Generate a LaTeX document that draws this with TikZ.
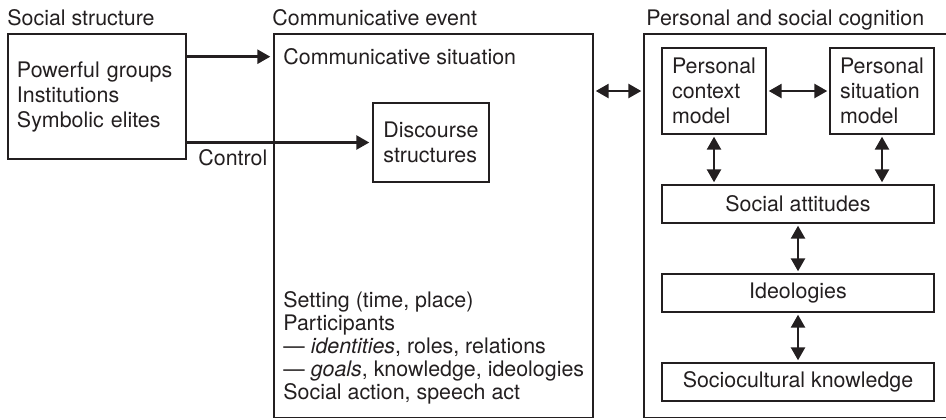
\documentclass[tikz,border=0pt]{standalone}
\usepackage{fontspec}
\setmainfont{TeX Gyre Heros}
\usetikzlibrary{arrows.meta}
\definecolor{ink}{RGB}{35,31,32}

\begin{document}
\begin{tikzpicture}[x=0.5pt, y=-0.5pt, color=ink,
		every node/.style={font=\fontsize{10.7}{12.5}\selectfont, inner sep=0pt},
		frame/.style={draw, line width=0.7pt},
		tag/.style={anchor=base west},
		link/.style={line width=1.3pt, shorten >=1.5pt, -{Triangle[length=6.5pt,width=7pt]}},
		twoway/.style={line width=1.3pt, shorten >=1pt, shorten <=1pt, {Triangle[length=6.5pt,width=7pt]}-{Triangle[length=6.5pt,width=7pt]}},
		model/.style={frame, align=left, minimum width=52pt, minimum height=43pt},
		layer/.style={frame, minimum width=136pt, minimum height=19pt}]

		\useasboundingbox (0,0) rectangle (946,419);

		\node[tag] (structtitle) at (7,25.5) {Social structure};
		\node[tag] (eventtitle) at (272,25.5) {Communicative event};
		\node[tag] (cogtitle) at (646,25.5) {Personal and social cognition};

		\node[frame, align=left, text width=80pt, inner xsep=4.5pt, minimum height=62.5pt] (socstruct) at (97,96.5) {Powerful groups\\Institutions\\Symbolic elites};

		\node[frame, minimum width=159.5pt, minimum height=191.75pt] (event) at (433.5,225.75) {};
		\node[tag] (situation) at (283,64.5) {Communicative situation};
		\node[frame, align=left, minimum width=58pt, minimum height=39.5pt] (discourse) at (431,142.5) {Discourse\\structures};
		\node[anchor=south west, align=left, font=\fontsize{10.7}{11.5}\selectfont] (setting) at (283,405) {Setting (time, place)\\Participants\\\textemdash{} \textit{identities}, roles, relations\\\textemdash{} \textit{goals}, knowledge, ideologies\\Social action, speech act};
		\node[tag] (control) at (198,165) {Control};

		\node[frame, minimum width=153pt, minimum height=191.75pt] (cognition) at (797,225.75) {};
		\node[model] (pcm) at (714,91) {Personal\\context\\model};
		\node[model] (psm) at (882,91) {Personal\\situation\\model};
		\node[layer] (attitudes) at (798,204) {Social attitudes};
		\node[layer] (ideologies) at (798,293) {Ideologies};
		\node[layer] (knowledge) at (798,382) {Sociocultural knowledge};

		\draw[link] (socstruct.east |- situation) -- (event.west |- situation);
		\draw[link] (socstruct.east |- discourse) -- (discourse.west);

		\draw[twoway] (event.east |- pcm) -- (cognition.west |- pcm);
		\draw[twoway] (pcm.east) -- (psm.west);
		\draw[twoway] (pcm.south) -- (pcm.south |- attitudes.north);
		\draw[twoway] (psm.south) -- (psm.south |- attitudes.north);
		\draw[twoway] (attitudes) -- (ideologies);
		\draw[twoway] (ideologies) -- (knowledge);
	\end{tikzpicture}
\end{document}
